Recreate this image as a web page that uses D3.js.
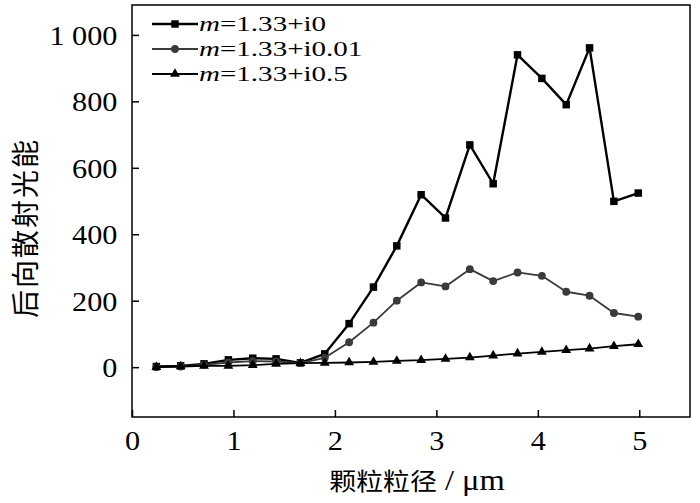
<!DOCTYPE html>
<html>
<head>
<meta charset="utf-8">
<script src="https://cdn.jsdelivr.net/npm/d3@7"></script>
<style>
  body { margin: 0; background: #fff; }
  svg { display: block; }
</style>
</head>
<body>
<svg id="chart" width="700" height="503"></svg>
<script>
'use strict';

// particle size (um)
const sizes = [0.24, 0.48, 0.71, 0.95, 1.19, 1.42, 1.66, 1.90, 2.14, 2.38, 2.61,
  2.85, 3.09, 3.33, 3.56, 3.80, 4.04, 4.28, 4.51, 4.75, 4.99];
// back-scattered energy, m=1.33+i0
const energyI0 = [2, 4, 10, 22, 27, 25, 13, 40, 131, 241, 365,
  519, 449, 669, 552, 940, 869, 790, 961, 499, 524];
// m=1.33+i0.01
const energyI001 = [0, 2, 7, 14, 18, 17, 12, 28, 75, 134, 200,
  255, 243, 295, 259, 285, 275, 227, 215, 163, 152];
// m=1.33+i0.5
const energyI05 = [0, 2, 4, 4, 6, 10, 12, 13, 14, 16, 19,
  21, 25, 29, 35, 41, 46, 51, 56, 63, 69];

const seriesNames = ['1.33+i0', '1.33+i0.01', '1.33+i0.5'];
const xTicks = [0, 1, 2, 3, 4, 5];
const yTicks = [0, 200, 400, 600, 800, 1000];

const series = [
  { name: seriesNames[0], values: energyI0, color: '#000', width: 2.4, marker: 'square' },
  { name: seriesNames[1], values: energyI001, color: '#3a3a3a', width: 1.8, marker: 'circle' },
  { name: seriesNames[2], values: energyI05, color: '#000', width: 1.8, marker: 'triangle' },
];

const svg = d3.select('#chart');
const margin = { top: 5, right: 10, bottom: 86, left: 132 };
const width = 700 - margin.left - margin.right,
  height = 503 - margin.top - margin.bottom;

const g = svg.append('g').attr('transform', `translate(${margin.left},${margin.top})`);

const x = d3.scaleLinear().domain([0, 5.5]).range([0, width]);
const y = d3.scaleLinear().domain([-150, 1090]).range([height, 0]);

const serif = '"Liberation Serif", "Times New Roman", serif';
const cjk = '"Noto Sans CJK SC", sans-serif';
// the scanned figure is a little wider than tall
const stretch = 'scale(1.12,1)';

// frame
g.append('rect')
  .attr('width', width)
  .attr('height', height)
  .attr('fill', 'none')
  .attr('stroke', '#000')
  .attr('stroke-width', 1.5);

// X-Axis, ticks pointing inward
g.append('g')
  .attr('transform', `translate(0,${height})`)
  .call(d3.axisBottom(x).tickValues(xTicks).tickSize(-7).tickPadding(14).tickFormat(d3.format('d')))
  .call((a) => a.select('.domain').remove())
  .call((a) => a.selectAll('.tick line').attr('stroke', '#000').attr('stroke-width', 1.5))
  .call((a) => a.selectAll('.tick text')
    .attr('fill', '#000')
    .attr('transform', stretch)
    .style('font-family', serif)
    .style('font-size', '27px'));

// Y-Axis
g.append('g')
  .call(d3.axisLeft(y).tickValues(yTicks).tickSize(-7).tickPadding(13)
    .tickFormat((d) => d3.format(',')(d).replace(',', ' ')))
  .call((a) => a.select('.domain').remove())
  .call((a) => a.selectAll('.tick line').attr('stroke', '#000').attr('stroke-width', 1.5))
  .call((a) => a.selectAll('.tick text')
    .attr('fill', '#000')
    .attr('dy', '0.35em')
    .attr('transform', stretch)
    .style('font-family', serif)
    .style('font-size', '27px')
    .style('white-space', 'pre'));

// axis titles
svg.append('g')
  .attr('transform', 'translate(417,490)')
  .append('text')
  .attr('transform', stretch)
  .attr('text-anchor', 'middle')
  .call((t) => {
    t.append('tspan').style('font-family', cjk).style('font-size', '24px').text('颗粒粒径');
    t.append('tspan').style('font-family', serif).style('font-size', '29px')
      .style('white-space', 'pre').text(' / μm');
  });

svg.append('text')
  .attr('transform', 'translate(36,228) rotate(-90)')
  .attr('text-anchor', 'middle')
  .style('font-family', cjk)
  .style('font-size', '28px')
  .style('letter-spacing', '2px')
  .text('后向散射光能');

// markers
const sym = {
  square: d3.symbol().type(d3.symbolSquare).size(56),
  circle: d3.symbol().type(d3.symbolCircle).size(48),
  triangle: d3.symbol().type(d3.symbolTriangle).size(42),
};

const line = d3.line()
  .x((d, i) => x(sizes[i]))
  .y((d) => y(d));

series.forEach((s) => {
  g.append('path')
    .datum(s.values)
    .attr('fill', 'none')
    .attr('stroke', s.color)
    .attr('stroke-width', s.width)
    .attr('stroke-linejoin', 'round')
    .attr('d', line);

  g.append('g')
    .selectAll('path')
    .data(s.values)
    .enter()
    .append('path')
    .attr('transform', (d, i) => `translate(${x(sizes[i])},${y(d)})`)
    .attr('d', sym[s.marker]())
    .attr('fill', s.color);
});

// legend
const legend = g.append('g').attr('transform', 'translate(20,19)');
series.forEach((s, i) => {
  const row = legend.append('g').attr('transform', `translate(0,${i * 25})`);
  row.append('line')
    .attr('x1', 0).attr('x2', 46)
    .attr('stroke', s.color)
    .attr('stroke-width', s.width);
  row.append('path')
    .attr('transform', 'translate(23,0)')
    .attr('d', sym[s.marker]())
    .attr('fill', s.color);
  const t = row.append('g')
    .attr('transform', 'translate(47,0)')
    .append('text')
    .attr('transform', 'scale(1.32,1)')
    .attr('dy', '0.34em')
    .style('font-family', serif)
    .style('font-size', '22px');
  t.append('tspan').style('font-style', 'italic').text('m');
  t.append('tspan').text('=' + s.name);
});
</script>
</body>
</html>
